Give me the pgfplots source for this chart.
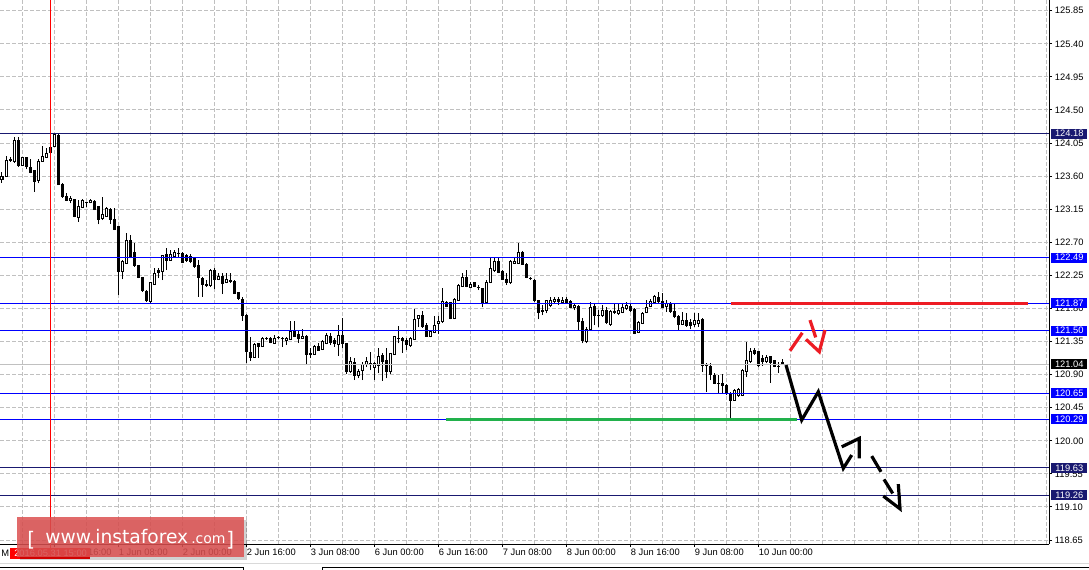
\documentclass[border=0pt]{standalone}
\usepackage{pgfplots}
\pgfplotsset{compat=1.18}
\usepackage{pgfplotstable}
\usepackage{fontspec}
\setmainfont{Liberation Sans}
\newfontfamily\wmfont{DejaVu Sans}
\definecolor{navyc}{RGB}{25,25,112}
\definecolor{bluec}{RGB}{0,0,255}
\definecolor{gridc}{RGB}{192,192,192}
\definecolor{redc}{RGB}{237,28,36}
\definecolor{greenc}{RGB}{34,177,76}
\definecolor{wmc}{RGB}{220,80,80}
\newcommand{\tf}{\fontsize{7}{8}\selectfont}

% H1 candles, x = chart position (4 units per bar)
\pgfplotstableread{
x o h l c
2 123.556 123.660 123.510 123.592
6 123.601 123.873 123.592 123.810
10 123.810 123.864 123.796 123.828
14 123.796 124.136 123.783 124.091
18 124.091 124.136 123.728 123.742
22 123.751 123.864 123.742 123.855
26 123.851 123.864 123.692 123.728
30 123.719 123.828 123.637 123.646
34 123.674 123.683 123.388 123.524
38 123.538 123.828 123.501 123.796
42 123.805 124.009 123.796 123.864
46 123.851 123.978 123.842 123.910
50 123.919 124.000 123.910 123.991
54 124.000 124.182 123.991 124.168
58 124.159 124.175 123.479 123.492
62 123.492 123.501 123.306 123.320
66 123.329 123.365 123.261 123.275
70 123.266 123.329 123.229 123.297
74 123.284 123.290 123.039 123.048
78 123.034 123.275 122.980 123.193
82 123.175 123.284 123.161 123.266
86 123.243 123.252 123.175 123.246
90 123.238 123.284 123.229 123.275
94 123.261 123.275 123.139 123.148
98 123.184 123.193 122.944 123.012
102 123.021 123.310 123.003 123.080
106 123.057 123.175 123.048 123.161
110 123.152 123.161 122.948 123.016
114 123.012 123.161 122.866 122.880
118 122.912 122.921 121.982 122.300
122 122.300 122.458 122.195 122.436
126 122.413 122.821 122.404 122.730
130 122.730 122.798 122.481 122.495
134 122.567 122.685 122.368 122.381
138 122.381 122.390 122.209 122.222
142 122.222 122.232 122.027 122.041
146 122.037 122.050 121.891 121.914
150 121.891 122.159 121.869 122.150
154 122.132 122.345 122.118 122.277
158 122.313 122.345 122.209 122.286
162 122.300 122.530 122.186 122.526
166 122.540 122.617 122.322 122.458
170 122.458 122.594 122.449 122.540
174 122.513 122.594 122.504 122.567
178 122.549 122.617 122.495 122.552
182 122.549 122.572 122.413 122.422
186 122.526 122.535 122.436 122.458
190 122.504 122.535 122.413 122.436
194 122.481 122.504 122.354 122.368
198 122.390 122.458 121.960 122.222
202 122.209 122.232 121.960 122.127
206 122.118 122.186 122.096 122.121
210 122.109 122.336 122.096 122.322
214 122.313 122.345 122.059 122.195
218 122.195 122.277 122.186 122.232
222 122.232 122.286 121.996 122.141
226 122.150 122.277 122.141 122.195
230 122.186 122.277 122.150 122.164
234 122.164 122.186 121.996 122.005
238 122.014 122.027 121.914 121.937
242 121.923 121.950 121.630 121.700
246 121.711 121.730 121.053 121.212
250 121.207 121.407 121.089 121.130
254 121.135 121.325 121.130 121.316
258 121.325 121.330 121.130 121.280
262 121.289 121.407 121.280 121.393
266 121.393 121.407 121.371 121.390
270 121.393 121.416 121.325 121.334
274 121.325 121.438 121.316 121.393
278 121.400 121.425 121.380 121.410
282 121.390 121.407 121.280 121.385
286 121.362 121.407 121.300 121.393
290 121.380 121.634 121.371 121.484
294 121.484 121.634 121.407 121.425
298 121.447 121.493 121.334 121.393
302 121.393 121.516 121.389 121.425
306 121.425 121.440 121.044 121.180
310 121.180 121.257 121.121 121.183
314 121.180 121.302 121.166 121.289
318 121.289 121.325 121.226 121.235
322 121.244 121.371 121.235 121.348
326 121.321 121.470 121.312 121.434
330 121.425 121.470 121.302 121.334
334 121.361 121.393 121.280 121.325
338 121.316 121.574 121.153 121.434
342 121.434 121.665 121.257 121.325
346 121.325 121.330 120.908 120.940
350 120.940 121.135 120.926 121.085
354 121.067 121.121 120.826 120.890
358 120.894 120.971 120.849 120.940
362 120.962 121.076 120.826 121.039
366 121.044 121.135 121.008 121.076
370 121.053 121.212 120.962 121.055
374 120.994 121.076 120.826 121.053
378 121.030 121.257 120.917 121.144
382 121.166 121.198 120.817 121.076
386 121.098 121.257 120.850 120.940
390 120.940 121.198 120.908 121.189
394 121.180 121.425 121.166 121.416
398 121.393 121.560 121.325 121.390
402 121.393 121.407 121.198 121.371
406 121.371 121.393 121.235 121.311
410 121.293 121.407 121.280 121.393
414 121.380 121.792 121.371 121.652
418 121.665 121.711 121.543 121.701
422 121.711 121.770 121.538 121.552
426 121.574 121.606 121.416 121.425
430 121.416 121.497 121.407 121.484
434 121.470 121.697 121.461 121.574
438 121.597 121.697 121.452 121.629
442 121.620 122.073 121.606 121.901
446 121.883 121.906 121.815 121.833
450 121.878 121.892 121.652 121.665
454 121.665 121.946 121.652 121.928
458 121.915 122.128 121.906 122.119
462 122.105 122.277 122.096 122.223
466 122.223 122.323 122.087 122.096
470 122.087 122.164 122.073 122.128
474 122.150 122.164 122.087 122.096
478 122.087 122.119 122.050 122.085
482 122.073 122.078 121.815 121.878
486 121.878 122.187 121.860 122.150
490 122.150 122.482 122.141 122.337
494 122.314 122.491 122.300 122.436
498 122.436 122.482 122.277 122.286
502 122.300 122.323 122.187 122.196
506 122.196 122.277 122.119 122.150
510 122.150 122.459 122.132 122.445
514 122.414 122.495 122.404 122.436
518 122.414 122.686 122.404 122.559
522 122.568 122.586 122.395 122.404
526 122.404 122.414 122.209 122.223
530 122.209 122.232 122.187 122.205
534 122.187 122.196 121.892 121.906
538 121.906 121.915 121.652 121.742
542 121.779 121.847 121.711 121.756
546 121.779 121.915 121.733 121.906
550 121.847 121.960 121.815 121.915
554 121.892 121.960 121.878 121.928
558 121.924 121.960 121.847 121.892
562 121.878 121.960 121.869 121.915
566 121.928 121.960 121.869 121.878
570 121.901 121.915 121.801 121.815
574 121.815 121.860 121.779 121.842
578 121.833 121.842 121.497 121.620
582 121.620 121.665 121.325 121.361
586 121.348 121.543 121.325 121.520
590 121.516 121.883 121.507 121.815
594 121.833 121.878 121.575 121.711
598 121.711 121.779 121.543 121.708
602 121.711 121.847 121.688 121.779
606 121.779 121.824 121.588 121.606
610 121.584 121.779 121.565 121.765
614 121.765 121.878 121.724 121.747
618 121.733 121.878 121.711 121.770
622 121.742 121.878 121.733 121.815
626 121.801 121.892 121.779 121.847
630 121.833 121.869 121.756 121.779
634 121.788 121.801 121.452 121.461
638 121.470 121.634 121.461 121.615
642 121.597 121.756 121.588 121.733
646 121.742 121.915 121.733 121.815
650 121.824 121.924 121.815 121.892
654 121.878 121.983 121.869 121.960
658 121.951 122.028 121.878 121.892
662 121.901 122.014 121.801 121.815
666 121.833 121.915 121.756 121.869
670 121.860 121.892 121.742 121.756
674 121.765 121.869 121.665 121.697
678 121.697 121.711 121.507 121.588
682 121.583 121.756 121.574 121.633
686 121.642 121.742 121.552 121.574
690 121.606 121.651 121.515 121.574
694 121.588 121.742 121.552 121.633
698 121.597 121.733 121.552 121.642
702 121.656 121.665 120.939 121.030
706 121.030 121.053 120.667 121.027
710 121.016 121.053 120.826 120.903
714 120.894 120.917 120.772 120.781
718 120.781 120.894 120.645 120.778
722 120.781 120.908 120.654 120.758
726 120.758 120.772 120.622 120.645
730 120.645 120.667 120.305 120.554
734 120.554 120.699 120.545 120.690
738 120.622 120.713 120.599 120.699
742 120.622 120.971 120.608 120.953
746 120.939 121.348 120.871 121.098
750 121.075 121.257 121.062 121.212
754 121.225 121.257 121.166 121.189
758 121.212 121.225 120.998 121.030
762 121.121 121.166 121.016 121.075
766 121.075 121.166 121.053 121.134
770 121.144 121.150 120.790 121.062
774 121.089 121.098 120.998 121.007
778 121.016 121.075 120.926 121.013
782 121.062 121.107 121.030 121.039
}\candles

\begin{document}
\begin{tikzpicture}
\useasboundingbox (0,0) rectangle (816.75pt,-426.75pt);
\fill[white] (0,0) rectangle (816.75pt,-426.75pt);
\pgfplotsset{chart/.style={at={(0pt,0pt)}, anchor=north west, scale only axis,
  width=786.75pt, height=408pt, xmin=0, xmax=1049, ymin=118.596, ymax=125.996}}

% grid, axes and wicks
\begin{axis}[chart,
  axis x line*=bottom, axis y line*=right,
  axis line style={black, line width=0.75pt, -},
  tick align=outside, major tick length=2.25pt, minor tick length=0pt,
  tick style={black, line width=0.75pt},
  xtick={54,118,182,246,310,374,438,502,566,630,694,758},
  xticklabels={31 May 16:00, 1 Jun 08:00, 2 Jun 00:00, 2 Jun 16:00, 3 Jun 08:00, 6 Jun 00:00, 6 Jun 16:00, 7 Jun 08:00, 8 Jun 00:00, 8 Jun 16:00, 9 Jun 08:00, 10 Jun 00:00},
  minor xtick={22,54,...,1046},
  xmajorgrids=false, xminorgrids=true, ymajorgrids=true,
  ytick={118.65,119.10,119.55,120.00,120.45,120.90,121.35,121.80,122.25,122.70,123.15,123.60,124.05,124.50,124.95,125.40,125.85},
  yticklabels={118.65,119.10,119.55,120.00,120.45,120.90,121.35,121.80,122.25,122.70,123.15,123.60,124.05,124.50,124.95,125.40,125.85},
  grid style={draw=gridc, dash pattern=on 3pt off 1.5pt, line width=0.75pt},
  minor grid style={draw=gridc, dash pattern=on 3pt off 1.5pt, line width=0.75pt},
  ticklabel style={font=\tf, text=black},
  xticklabel style={anchor=north west, inner sep=0pt, xshift=0.5pt, yshift=-1.5pt},
  yticklabel style={anchor=west, inner sep=0pt, xshift=2pt},
]
\addplot[draw=none, mark=none, forget plot,
  error bars/.cd, y dir=plus, y explicit, error mark=none,
  error bar style={draw=black, solid, line width=0.75pt}]
  table[x=x, y=l, y error plus expr={\thisrow{h}-\thisrow{l}}] {\candles};
\end{axis}

% candle bodies
\begin{axis}[chart, hide axis, ybar stacked, bar width=1.5pt]
\addplot[draw=none, fill=none] table[x=x, y expr={min(\thisrow{o},\thisrow{c})}] {\candles};
\addplot[draw=black, fill=white, line width=0.75pt] table[x=x, y expr={max(\thisrow{c}-\thisrow{o},0)}] {\candles};
\addplot[draw=black, fill=black, line width=0.75pt] table[x=x, y expr={max(\thisrow{o}-\thisrow{c},0)}] {\candles};
\end{axis}

% levels, arrows and price labels
\begin{axis}[chart, hide axis, clip=false]
\addplot[navyc, line width=0.75pt] coordinates {(0,124.18) (1049,124.18)};
\addplot[bluec, line width=0.75pt] coordinates {(0,122.49) (1049,122.49)};
\addplot[bluec, line width=0.75pt] coordinates {(0,121.87) (1049,121.87)};
\addplot[bluec, line width=0.75pt] coordinates {(0,121.50) (1049,121.50)};
\addplot[gridc, line width=0.75pt] coordinates {(0,121.04) (1049,121.04)};
\addplot[bluec, line width=0.75pt] coordinates {(0,120.65) (1049,120.65)};
\addplot[bluec, line width=0.75pt] coordinates {(0,120.29) (1049,120.29)};
\addplot[navyc, line width=0.75pt] coordinates {(0,119.63) (1049,119.63)};
\addplot[navyc, line width=0.75pt] coordinates {(0,119.26) (1049,119.26)};
\addplot[red, line width=0.75pt] coordinates {(50,118.596) (50,125.996)};
\addplot[redc, line width=2.4pt] coordinates {(731,121.87) (1028,121.87)};
\addplot[greenc, line width=2.4pt] coordinates {(446,120.29) (797,120.29)};
% expected path
\addplot[black, line width=2.4pt, line join=miter] coordinates {(786,121.030) (801.7,120.282) (818.3,120.667) (843.3,119.625) (851.7,119.806)};
\addplot[black, line width=2.4pt, line join=miter] coordinates {(841.7,119.918) (859.3,120.033) (859.3,119.761)};
\addplot[black, line width=2.4pt] coordinates {(871.7,119.792) (881,119.578)};
\addplot[black, line width=2.4pt] coordinates {(884,119.475) (892.7,119.284)};
\addplot[black, line width=2.4pt, line join=miter] coordinates {(883.3,119.248) (900,119.075) (898.3,119.411)};
% alternative path
\addplot[redc, line width=2.4pt] coordinates {(790,121.225) (802.3,121.469)};
\addplot[redc, line width=2.4pt] coordinates {(810,121.642) (815.7,121.407)};
\addplot[redc, line width=2.4pt, line join=miter] coordinates {(806,121.380) (819.3,121.211) (825,121.506)};
% price labels
\tikzset{lbl/.style={anchor=west, inner sep=0pt, minimum width=27pt, minimum height=7.5pt, text=white, font=\tf, xshift=1.5pt}}
\node[lbl, fill=navyc] at (axis cs:1049,124.18) {124.18};
\node[lbl, fill=bluec] at (axis cs:1049,122.49) {122.49};
\node[lbl, fill=bluec] at (axis cs:1049,121.87) {121.87};
\node[lbl, fill=bluec] at (axis cs:1049,121.50) {121.50};
\node[lbl, fill=black] at (axis cs:1049,121.04) {121.04};
\node[lbl, fill=bluec] at (axis cs:1049,120.65) {120.65};
\node[lbl, fill=bluec] at (axis cs:1049,120.29) {120.29};
\node[lbl, fill=navyc] at (axis cs:1049,119.63) {119.63};
\node[lbl, fill=navyc] at (axis cs:1049,119.26) {119.26};
\end{axis}

% crosshair date, watermark, bottom frame
\begin{scope}[x=0.75pt, y=-0.75pt]
\draw[red, line width=0.75pt] (50.5,544) -- (50.5,548);
\fill[red] (10,547.5) rectangle (90,558.5);
\node[anchor=west, inner sep=0pt, text=white, font=\tf] at (14,553) {2016.05.31 15:00};
\node[anchor=west, inner sep=0pt, font=\tf] at (1,553) {M};
\fill[black, opacity=0.18] (19.5,519.5) rectangle (246.5,559.5);
\fill[wmc, opacity=0.85] (17,517) rectangle (244,557);
\node[anchor=base west, inner sep=0pt, text=white, font=\wmfont\fontsize{15}{15}\selectfont] at (27,546) {[};
\node[anchor=base west, inner sep=0pt, text=white, font=\wmfont\fontsize{14}{14}\selectfont] at (45,543) {www.instaforex};
\node[anchor=base west, inner sep=0pt, text=white, font=\wmfont\fontsize{10.5}{10.5}\selectfont] at (191,543) {.com};
\node[anchor=base west, inner sep=0pt, text=white, font=\wmfont\fontsize{15}{15}\selectfont] at (226,546) {]};
\draw[gridc!60, line width=0.75pt] (0,563.5) -- (1089,563.5);
\draw[black, line width=0.75pt] (0,567.5) -- (243,567.5) -- (243,570);
\draw[black, line width=0.75pt] (322,570) -- (322,567.5) -- (1089,567.5);
\end{scope}
\end{tikzpicture}
\end{document}
